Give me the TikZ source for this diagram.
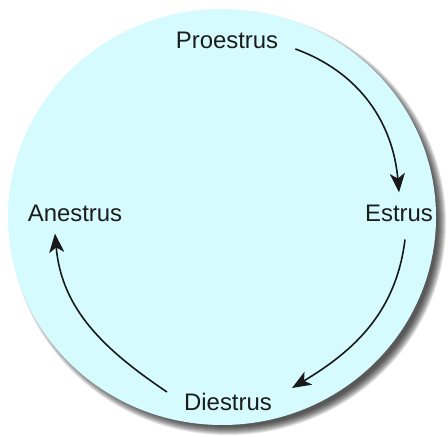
\documentclass[tikz,border=0pt]{standalone}
\usepackage{fontspec}
\setmainfont{Liberation Sans}
\usepackage{xcolor}
\usetikzlibrary{arrows.meta,positioning,calc}
\definecolor{cianoClaro}{RGB}{213,251,255}
\definecolor{textoEscuro}{RGB}{28,28,28}
\tikzset{
    fase/.style={
        inner sep=0pt,
        text=textoEscuro,
        font=\fontsize{24}{28}\selectfont
    },
    fluxo/.style={-{Stealth[length=19bp,width=15bp,inset=5bp]}, line width=1.6bp, draw=black!90},
    disco/.style={fill=cianoClaro, draw=none},
    sombra/.style={fill=black, opacity=0.11, draw=none}
}

\begin{document}
\begin{tikzpicture}[x=1bp, y=1bp]
        \useasboundingbox (0,0) rectangle (448,437);
        \coordinate (centro) at (222,220);
        % sombra e disco
        \foreach \r in {0,1,...,8}
            \fill[sombra] ($(centro)+(6,-6)$) ellipse[x radius=210+\r, y radius=204+\r];
        \fill[disco] (centro) ellipse[x radius=214, y radius=208];
        \node[fase] (proestro) at (227,397) {Proestrus};
        \node[fase] (estro) at (399,224) {Estrus};
        \node[fase] (diestro) at (228,35) {Diestrus};
        \node[fase] (anestro) at (75,224) {Anestrus};
        \draw[fluxo] ([shift={(17,-9)}]proestro.east) to[out=-20, in=95]
            ([yshift=12bp]estro.north);
        \draw[fluxo] ([shift={(6,-18)}]estro.south) to[out=-97, in=31]
            ([shift={(20,14)}]diestro.east);
        \draw[fluxo] ([shift={(-17,10)}]diestro.west) to[out=146, in=-85]
            ([shift={(-20,-12)}]anestro.south);
    \end{tikzpicture}
\end{document}
